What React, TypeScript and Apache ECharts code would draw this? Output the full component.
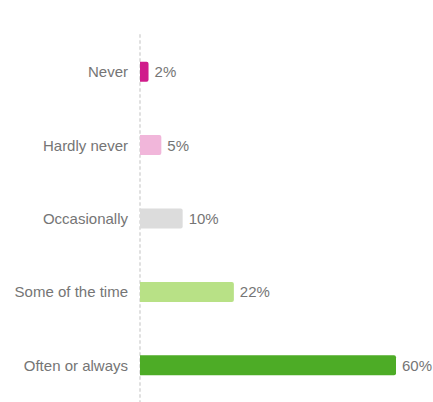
import React, { useEffect, useRef } from "react";
import * as echarts from "echarts";

const categories = ["Never", "Hardly never", "Occasionally", "Some of the time", "Often or always"];
const values = [2, 5, 10, 22, 60];
const colors = ["#d01c8b", "#f1b6da", "#dcdcdc", "#b8e186", "#4dac26"];

export default function App() {
  const ref = useRef<HTMLDivElement>(null);
  useEffect(() => {
    const chart = echarts.init(ref.current!, null, { renderer: "svg" });
    chart.setOption({
      animation: false,
      grid: { left: 140, right: 37, top: 35, bottom: -2, containLabel: false },
      xAxis: {
        type: "value",
        min: 0,
        max: 60,
        show: false,
      },
      yAxis: {
        type: "category",
        data: categories,
        inverse: true,
        axisTick: { show: false },
        axisLine: { show: true, lineStyle: { color: "#e0e0e0", type: [2, 4], width: 2 } },
        axisLabel: { color: "#757575", fontSize: 15, fontFamily: "Liberation Sans, Arial, sans-serif", margin: 12 },
      },
      series: [
        {
          type: "bar",
          barWidth: 20,
          data: values.map((v, i) => ({ value: v, itemStyle: { color: colors[i], borderRadius: [0, 2, 2, 0] } })),
          label: {
            show: true,
            position: "right",
            distance: 6,
            formatter: "{c}%",
            color: "#757575",
            fontSize: 15,
            fontFamily: "Liberation Sans, Arial, sans-serif",
          },
        },
      ],
    });
    return () => chart.dispose();
  }, []);
  return <div ref={ref} style={{ position: "absolute", left: 0, top: 0, width: 433, height: 402 }} />;
}
